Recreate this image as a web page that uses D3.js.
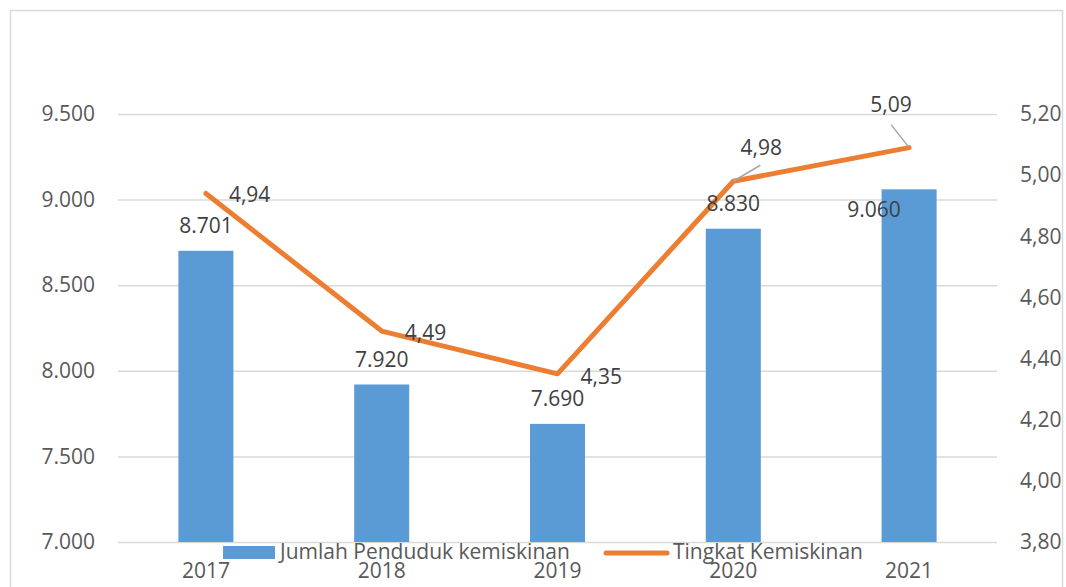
<!DOCTYPE html>
<html>
<head>
<meta charset="utf-8">
<script src="https://cdn.jsdelivr.net/npm/d3@7"></script>
<style>
  body { margin: 0; background: #fff; }
  text { font-family: "Open Sans", sans-serif; }
</style>
</head>
<body>
<div name="chart"></div>
<script>
// data
const years = ['2017', '2018', '2019', '2020', '2021'];
const jumlah = [8701, 7920, 7690, 8830, 9060];
const tingkat = [4.94, 4.49, 4.35, 4.98, 5.09];
const leftTicks = [7000, 7500, 8000, 8500, 9000, 9500];
const rightTicks = [3.8, 4.0, 4.2, 4.4, 4.6, 4.8, 5.0, 5.2];

const svgWidth = 1066, svgHeight = 587;
const margin = { top: 114, right: 69, bottom: 45, left: 118 };
const width = svgWidth - margin.left - margin.right;
const height = svgHeight - margin.top - margin.bottom;
const fontSize = '21px';

const locale = d3.formatLocale({ decimal: ',', thousands: '.', grouping: [3] });
const fmtLeft = locale.format(',.0f');
const fmtRight = locale.format('.2f');

const svg = d3.select('div[name=chart]').append('svg')
  .attr('width', svgWidth)
  .attr('height', svgHeight);

svg.append('rect')
  .attr('x', 10.5).attr('y', 10.5)
  .attr('width', 1052).attr('height', 600)
  .attr('fill', '#fff')
  .attr('stroke', '#d9d9d9')
  .attr('stroke-width', 1.5);

const g = svg.append('g')
  .attr('transform', `translate(${margin.left}, ${margin.top})`);

const x = d3.scaleBand().domain(years).range([0, width]).paddingInner(0.687).paddingOuter(0.3435);
const yL = d3.scaleLinear().domain([7000, 9500]).range([height, 0]);
const yR = d3.scaleLinear().domain([3.8, 5.2]).range([height, 0]);

// gridlines
g.append('g')
  .call(d3.axisLeft(yL).tickValues(leftTicks).tickSize(-width).tickFormat(''))
  .call(a => a.select('.domain').remove())
  .selectAll('line')
  .attr('stroke', '#d9d9d9')
  .attr('stroke-width', 1.5);

// left axis labels
const axL = g.append('g')
  .call(d3.axisLeft(yL).tickValues(leftTicks).tickSize(0).tickPadding(23).tickFormat(fmtLeft));
axL.select('.domain').remove();
axL.selectAll('text').attr('fill', '#595959').style('font-size', fontSize).style('font-family', 'Open Sans');

// right axis labels
const axR = g.append('g')
  .attr('transform', `translate(${width}, 0)`)
  .call(d3.axisRight(yR).tickValues(rightTicks).tickSize(0).tickPadding(23).tickFormat(fmtRight));
axR.select('.domain').remove();
axR.selectAll('text').attr('fill', '#595959').style('font-size', fontSize).style('font-family', 'Open Sans');

// x axis labels
const axX = g.append('g')
  .attr('transform', `translate(0, ${height})`)
  .call(d3.axisBottom(x).tickSize(0).tickPadding(21));
axX.select('.domain').remove();
axX.selectAll('text').attr('fill', '#595959').style('font-size', fontSize).style('font-family', 'Open Sans');

// bars
g.selectAll('rect.bar')
  .data(jumlah)
  .enter()
  .append('rect')
  .attr('class', 'bar')
  .attr('x', (d, i) => x(years[i]))
  .attr('y', d => yL(d))
  .attr('width', x.bandwidth())
  .attr('height', d => height - yL(d))
  .attr('fill', '#5b9bd5');

// line
const line = d3.line()
  .x((d, i) => x(years[i]) + x.bandwidth() / 2)
  .y(d => yR(d));

g.append('path')
  .datum(tingkat)
  .attr('fill', 'none')
  .attr('stroke', '#ed7d31')
  .attr('stroke-width', 5)
  .attr('stroke-linejoin', 'round')
  .attr('stroke-linecap', 'round')
  .attr('d', line);

// bar labels (the last one sits shifted over the bar)
const barLabelOff = [[0, -18], [0, -17], [0, -18], [0, -18], [-35, 28]];
g.selectAll('text.barlbl')
  .data(jumlah)
  .enter()
  .append('text')
  .attr('class', 'barlbl')
  .attr('x', (d, i) => x(years[i]) + x.bandwidth() / 2 + barLabelOff[i][0])
  .attr('y', (d, i) => yL(d) + barLabelOff[i][1])
  .attr('text-anchor', 'middle')
  .attr('fill', '#404040')
  .style('font-size', fontSize)
  .text(d => fmtLeft(d));

// line labels
const lineLabelOff = [[23, 9], [23, 9], [23, 10], [28, -26], [-18, -36]];
const lineLabelAnchor = ['start', 'start', 'start', 'middle', 'middle'];
const cx = i => x(years[i]) + x.bandwidth() / 2;

// leader lines for the two labels placed above
[3, 4].forEach(i => {
  const px = cx(i), py = yR(tingkat[i]);
  const lx = i === 3 ? px + 27 : px - 18;
  const ly = i === 3 ? py - 16 : py - 23;
  g.append('line')
    .attr('x1', lx).attr('y1', ly)
    .attr('x2', px).attr('y2', py)
    .attr('stroke', '#a6a6a6')
    .attr('stroke-width', 1.5);
});

g.selectAll('text.linelbl')
  .data(tingkat)
  .enter()
  .append('text')
  .attr('class', 'linelbl')
  .attr('x', (d, i) => cx(i) + lineLabelOff[i][0])
  .attr('y', (d, i) => yR(d) + lineLabelOff[i][1])
  .attr('text-anchor', (d, i) => lineLabelAnchor[i])
  .attr('fill', '#404040')
  .style('font-size', fontSize)
  .text(d => fmtRight(d));

// legend
const legend = svg.append('g');
legend.append('rect')
  .attr('x', 223).attr('y', 546)
  .attr('width', 52).attr('height', 13)
  .attr('fill', '#5b9bd5');
legend.append('text')
  .attr('x', 280).attr('y', 559)
  .attr('fill', '#595959')
  .style('font-size', fontSize)
  .text('Jumlah Penduduk kemiskinan');
legend.append('line')
  .attr('x1', 606).attr('y1', 553)
  .attr('x2', 667).attr('y2', 553)
  .attr('stroke', '#ed7d31')
  .attr('stroke-width', 5)
  .attr('stroke-linecap', 'round');
legend.append('text')
  .attr('x', 673).attr('y', 559)
  .attr('fill', '#595959')
  .style('font-size', fontSize)
  .text('Tingkat Kemiskinan');
</script>
</body>
</html>
